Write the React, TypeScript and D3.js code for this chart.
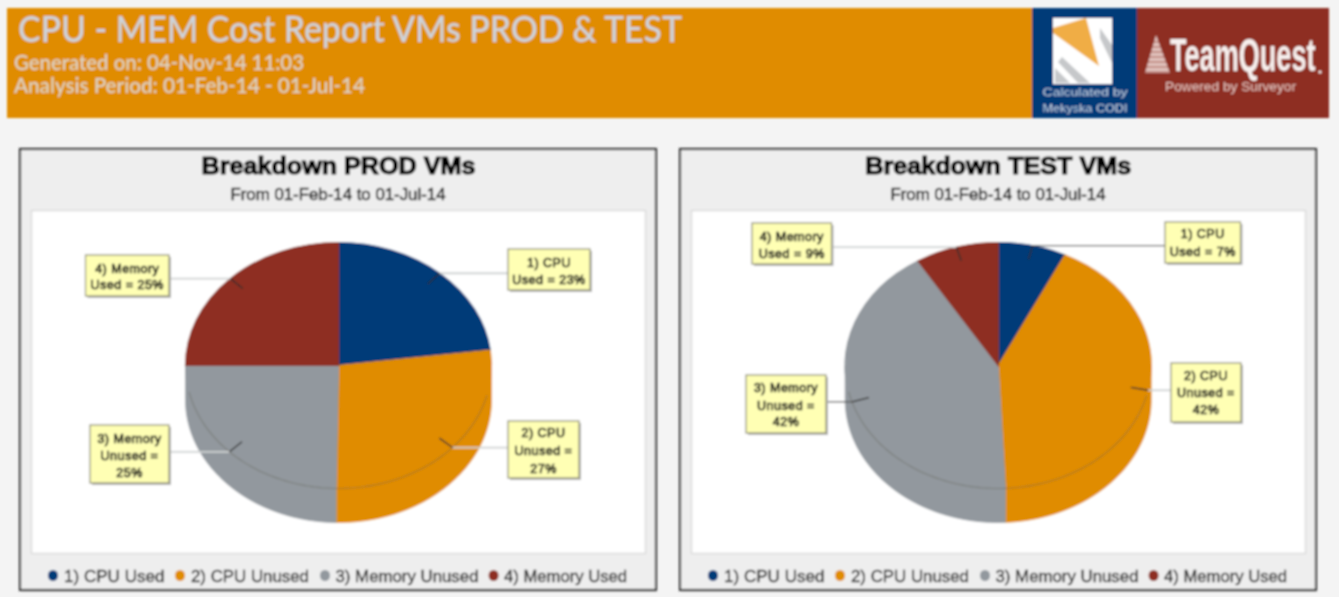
import React from "react";
import * as d3 from "d3";

// ---- data ----
const sliceNames = ["1) CPU Used", "2) CPU Unused", "3) Memory Unused", "4) Memory Used"];
const sliceColors = ["#003a78", "#e08c04", "#92989e", "#8e2f22"];
const prodValues = [23, 27.25, 24.75, 25];
const testValues = [7.2, 42.05, 41.95, 8.8];
const prodLabels = [["1) CPU", "Used = 23%"], ["2) CPU", "Unused =", "27%"], ["3) Memory", "Unused =", "25%"], ["4) Memory", "Used = 25%"]];
const testLabels = [["1) CPU", "Used = 7%"], ["2) CPU", "Unused =", "42%"], ["3) Memory", "Unused =", "42%"], ["4) Memory", "Used = 9%"]];

const reportTitle = "CPU - MEM Cost Report VMs PROD & TEST";
const generatedOn = "Generated on: 04-Nov-14 11:03";
const analysisPeriod = "Analysis Period: 01-Feb-14 - 01-Jul-14";
const panelRange = "From 01-Feb-14 to 01-Jul-14";

// ---- layout ----
const PIE = { rx: 153, ry: 123, cy: 365.5, depth: 34 };
const prodBoxes = [
  { x: 508, y: 249, w: 82, h: 41, base: [267, 284], dark: false },
  { x: 508, y: 421, w: 71, h: 57, base: [437, 455, 473], dark: false },
  { x: 90, y: 425, w: 79, h: 58, base: [443, 460, 477], dark: false },
  { x: 85.5, y: 255, w: 83.5, h: 41, base: [273, 289], dark: false },
];
const testBoxes = [
  { x: 1165, y: 222, w: 75.5, h: 41, base: [238, 256], dark: true },
  { x: 1171, y: 363, w: 70, h: 59, base: [380, 397, 414], dark: false },
  { x: 746, y: 375, w: 80, h: 58, base: [392, 410, 426], dark: true },
  { x: 752, y: 223, w: 79.5, h: 41, base: [241, 258], dark: false },
];
const legendLayout = [
  { mark: 53, x: 64, w: 100.5 },
  { mark: 180, x: 191, w: 118 },
  { mark: 325, x: 335.5, w: 143 },
  { mark: 493.6, x: 504, w: 123 },
];
const FF = "'Liberation Sans', Arial, sans-serif";

function Pie3D({ cx, values, labels, boxes }: any) {
  const pie = d3.pie<number>().sort(null).value((d) => d);
  const arcs = pie(values);
  const arc = d3.arc<any>().innerRadius(0).outerRadius(1);
  const sx = d3.scaleLinear().domain([0, 1]).range([cx, cx + PIE.rx]);
  const sy = d3.scaleLinear().domain([0, 1]).range([PIE.cy, PIE.cy + PIE.ry]);
  const px = (a: number, k = 1) => sx(Math.sin(a) * k);
  const py = (a: number, k = 1) => sy(-Math.cos(a) * k);
  const rimLine = d3.line<number>().x((a) => px(a)).y((a) => py(a));

  const wall = (a0: number, a1: number) => {
    const lo = Math.max(a0, Math.PI / 2);
    const hi = Math.min(a1, (3 * Math.PI) / 2);
    if (hi <= lo) return null;
    const angs = [...d3.range(lo, hi, 0.02), hi];
    const line = d3.line<[number, number]>();
    const pts: [number, number][] = [
      ...angs.map((a) => [px(a), py(a)] as [number, number]),
      ...angs.slice().reverse().map((a) => [px(a), py(a) + PIE.depth] as [number, number]),
    ];
    return line(pts) + "Z";
  };
  const rimAngles = [...d3.range((104 * Math.PI) / 180, (258 * Math.PI) / 180, 0.02)];

  return (
    <g>
      {arcs.map((d, i) => {
        const p = wall(d.startAngle, d.endAngle);
        return p ? <path key={i} d={p} fill={sliceColors[i]} stroke={sliceColors[i]} strokeWidth={0.8} /> : null;
      })}
      {arcs.map((d, i) => (
        <path
          key={i}
          d={arc(d) as string}
          fill={sliceColors[i]}
          stroke={sliceColors[i]}
          strokeWidth={0.008}
          transform={`translate(${cx},${PIE.cy}) scale(${PIE.rx},${PIE.ry})`}
        />
      ))}
      <path d={rimLine(rimAngles) as string} fill="none" stroke="#5e5a4c" strokeOpacity={0.42} strokeWidth={1.1} />
      {arcs.map((d, i) => {
        const mid = (d.startAngle + d.endAngle) / 2;
        const b = boxes[i];
        const kx = px(mid);
        const ky = py(mid);
        const right = kx > cx;
        const edge = right ? b.x : b.x + b.w;
        return (
          <g key={i}>
            <line x1={edge} y1={ky} x2={kx} y2={ky} stroke={b.dark ? "#555" : "#cfd2d2"} strokeWidth={b.dark ? 1.2 : 1.8} />
            <line x1={kx} y1={ky} x2={px(mid, 0.885)} y2={py(mid, 0.885)} stroke="#2c2c2c" strokeWidth={1.3} />
            <rect x={b.x + 2} y={b.y + 2} width={b.w} height={b.h} fill="#b5b5b5" />
            <rect x={b.x} y={b.y} width={b.w} height={b.h} fill="#ffffb4" stroke="#8c8c72" strokeWidth={1.2} />
            {labels[i].map((t: string, j: number) => (
              <text
                key={j}
                x={b.x + b.w / 2}
                y={b.base[j]}
                textAnchor="middle"
                fontFamily={FF}
                fontSize={12.5}
                letterSpacing={0.5}
                fontWeight={500}
                stroke="#111"
                strokeWidth={0.7}
                fill="#111"
              >
                {t}
              </text>
            ))}
          </g>
        );
      })}
    </g>
  );
}

function Panel({ dx, title, titleW, values, labels, boxes, cx }: any) {
  return (
    <g>
      <rect x={20 + dx + 1} y={149.5} width={636} height={442} fill="#bdbdbd" />
      <rect x={20 + dx} y={149} width={636} height={441} fill="#eeeeee" stroke="#303030" strokeWidth={2.2} />
      <rect x={31.5 + dx} y={210.5} width={614} height={343} fill="#ffffff" stroke="#dcdcdc" strokeWidth={1.5} />
      <text
        x={cx}
        y={174}
        textAnchor="middle"
        fontFamily={FF}
        fontWeight={700}
        fontSize={23}
        fill="#000"
        stroke="#000"
        strokeWidth={1.1}
        textLength={titleW}
        lengthAdjust="spacingAndGlyphs"
      >
        {title}
      </text>
      <text
        x={338 + dx}
        y={200}
        textAnchor="middle"
        fontFamily={FF}
        fontSize={16}
        fill="#222"
        stroke="#222"
        strokeWidth={0.5}
        textLength={215}
        lengthAdjust="spacingAndGlyphs"
      >
        {panelRange}
      </text>
      <Pie3D cx={cx} values={values} labels={labels} boxes={boxes} />
      {sliceNames.map((n, i) => (
        <g key={n}>
          <ellipse cx={legendLayout[i].mark + dx} cy={575.5} rx={5} ry={5.5} fill={sliceColors[i]} />
          <text
            x={legendLayout[i].x + dx}
            y={581.5}
            fontFamily={FF}
            fontSize={16.5}
            fill="#333"
            stroke="#333"
            strokeWidth={0.4}
            textLength={legendLayout[i].w}
            lengthAdjust="spacingAndGlyphs"
          >
            {n}
          </text>
        </g>
      ))}
    </g>
  );
}

function Banner() {
  const bf = "Lato, 'Open Sans', sans-serif";
  return (
    <g>
      <rect x={7} y={8} width={1025} height={110} fill="#e08c04" />
      <rect x={1032} y={8} width={105} height={110} fill="#003a78" />
      <rect x={1137} y={8} width={192} height={110} fill="#8e2f22" />
      <text x={18} y={42} fontFamily={bf} fontSize={37} fontWeight={500} fill="#cdd4dc" textLength={664} lengthAdjust="spacingAndGlyphs">
        {reportTitle}
      </text>
      <text x={14} y={70} fontFamily={bf} fontSize={20.5} fontWeight={500} fill="#ddd6c6" textLength={290} lengthAdjust="spacingAndGlyphs">
        {generatedOn}
      </text>
      <text x={14} y={92.5} fontFamily={bf} fontSize={20.5} fontWeight={500} fill="#ddd6c6" textLength={351} lengthAdjust="spacingAndGlyphs">
        {analysisPeriod}
      </text>
      {/* logo */}
      <rect x={1053} y={18} width={59} height={66} fill="#ffffff" />
      <polygon points="1053,28 1086,18 1099,66 1053,33" fill="#f0ad45" />
      <polygon points="1100,28 1112,45 1112,63 1100,38" fill="#c6c8ca" />
      <polygon points="1055,68 1055,83 1070,83" fill="#c6c8ca" />
      <polygon points="1062,57 1090,83 1078,83 1058,62" fill="#c6c8ca" />
      <text x={1085} y={96} textAnchor="middle" fontFamily={FF} fontSize={11.5} fill="#c6d3e4" textLength={85} lengthAdjust="spacingAndGlyphs">
        Calculated by
      </text>
      <text x={1085} y={112} textAnchor="middle" fontFamily={FF} fontSize={11.5} fill="#c6d3e4" textLength={85} lengthAdjust="spacingAndGlyphs">
        Mekyska CODI
      </text>
      <polygon points="1156,35 1170,73 1145,73" fill="#f0dcd8" opacity={0.85} />
      {d3.range(42, 73, 5).map((y) => (
        <line key={y} x1={1145} x2={1170} y1={y} y2={y} stroke="#8e2f22" strokeWidth={1.2} opacity={0.6} />
      ))}
      <text transform="translate(1170,71) scale(0.645,1.12)" x={0} y={0} fontFamily={FF} fontSize={42} fontWeight={700} fill="#f7f0ee">
        TeamQuest
      </text>
      <circle cx={1320} cy={72} r={1.6} fill="#f7f0ee" />
      <text x={1165} y={91} fontFamily={FF} fontSize={12} fill="#e6c6c0" textLength={131} lengthAdjust="spacingAndGlyphs">
        Powered by Surveyor
      </text>
    </g>
  );
}

export default function App() {
  return (
    <svg width={1339} height={597} style={{ position: "fixed", left: 0, top: 0, display: "block" }}>
      <defs>
        <filter id="soft" x="0" y="0" width="1339" height="597" filterUnits="userSpaceOnUse">
          <feGaussianBlur stdDeviation="0.8" />
        </filter>
      </defs>
      <rect width={1339} height={597} fill="#f4f4f4" />
      <g filter="url(#soft)">
        <Banner />
        <Panel dx={0} cx={338.5} title="Breakdown PROD VMs" titleW={274} values={prodValues} labels={prodLabels} boxes={prodBoxes} />
        <Panel dx={660} cx={998.2} title="Breakdown TEST VMs" titleW={266} values={testValues} labels={testLabels} boxes={testBoxes} />
      </g>
    </svg>
  );
}
